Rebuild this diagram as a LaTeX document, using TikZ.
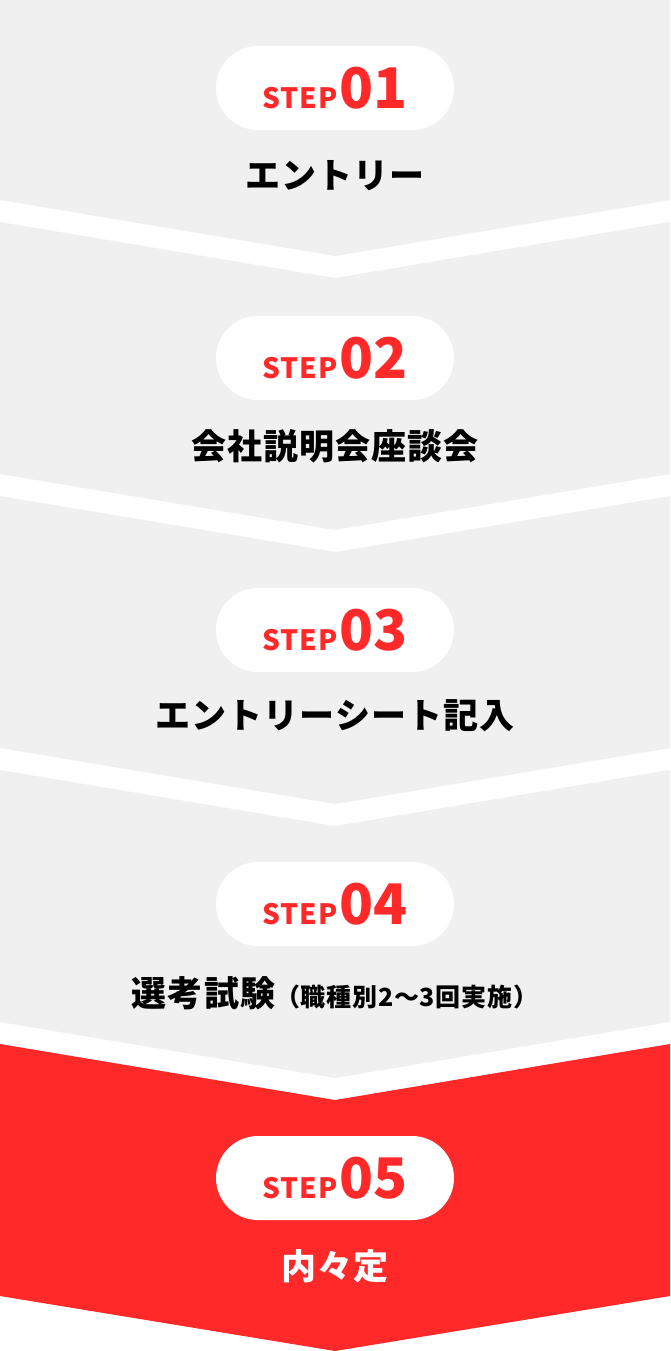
\documentclass[tikz,border=0pt]{standalone}
\usepackage{fontspec}
\setmainfont{Noto Sans CJK JP}
\definecolor{stepred}{HTML}{FF2929}
\definecolor{panelgrey}{HTML}{F0F0F0}
\tikzset{
    pill/.style={fill=white, rounded corners=42pt, minimum width=238pt, minimum height=84pt, inner sep=0pt},
    title/.style={font=\bfseries\fontsize{35}{38}\selectfont\addfontfeature{LetterSpace=3}, inner sep=0pt}
}
\NewDocumentCommand{\steplabel}{m}{{\fontsize{28}{30}\selectfont\addfontfeature{LetterSpace=4}STEP}\,{\fontsize{56}{56}\selectfont #1}}

\begin{document}
\begin{tikzpicture}[x=1pt, y=-1pt]
    \useasboundingbox (0,0) rectangle (670,1351);
    \fill[white] (0,0) rectangle (670,1351);
    % grey panels
    \fill[panelgrey] (0,0) -- (670,0) -- (670,200) -- (335,256) -- (0,200) -- cycle;
    \foreach \k in {1,2,3}{
        \def\y{274*\k}
        \fill[panelgrey] (0,{\y-52}) -- (335,{\y+4}) -- (670,{\y-52}) -- (670,{\y+200}) -- (335,{\y+256}) -- (0,{\y+200}) -- cycle;
    }
    % red panel
    \fill[stepred] (0,1044) -- (335,1100) -- (670,1044) -- (670,1296) -- (335,1351) -- (0,1296) -- cycle;

    \node[pill, text=stepred] (s1) at (335,88) {\bfseries\steplabel{01}};
    \node[title] (t1) at (335,176) {エントリー};
    \node[pill, text=stepred] (s2) at (335,358) {\bfseries\steplabel{02}};
    \node[title] (t2) at (335,446) {会社説明会座談会};
    \node[pill, text=stepred] (s3) at (335,630) {\bfseries\steplabel{03}};
    \node[title] (t3) at (335,716) {エントリーシート記入};
    \node[pill, text=stepred] (s4) at (335,904) {\bfseries\steplabel{04}};
    \node[title] (t4) at (335,993) {選考試験{\fontsize{25}{28}\selectfont（職種別2〜3回実施）}};
    \node[pill, text=stepred] (s5) at (335,1178) {\bfseries\steplabel{05}};
    \node[title, text=white] (t5) at (335,1266) {内々定};
\end{tikzpicture}
\end{document}
